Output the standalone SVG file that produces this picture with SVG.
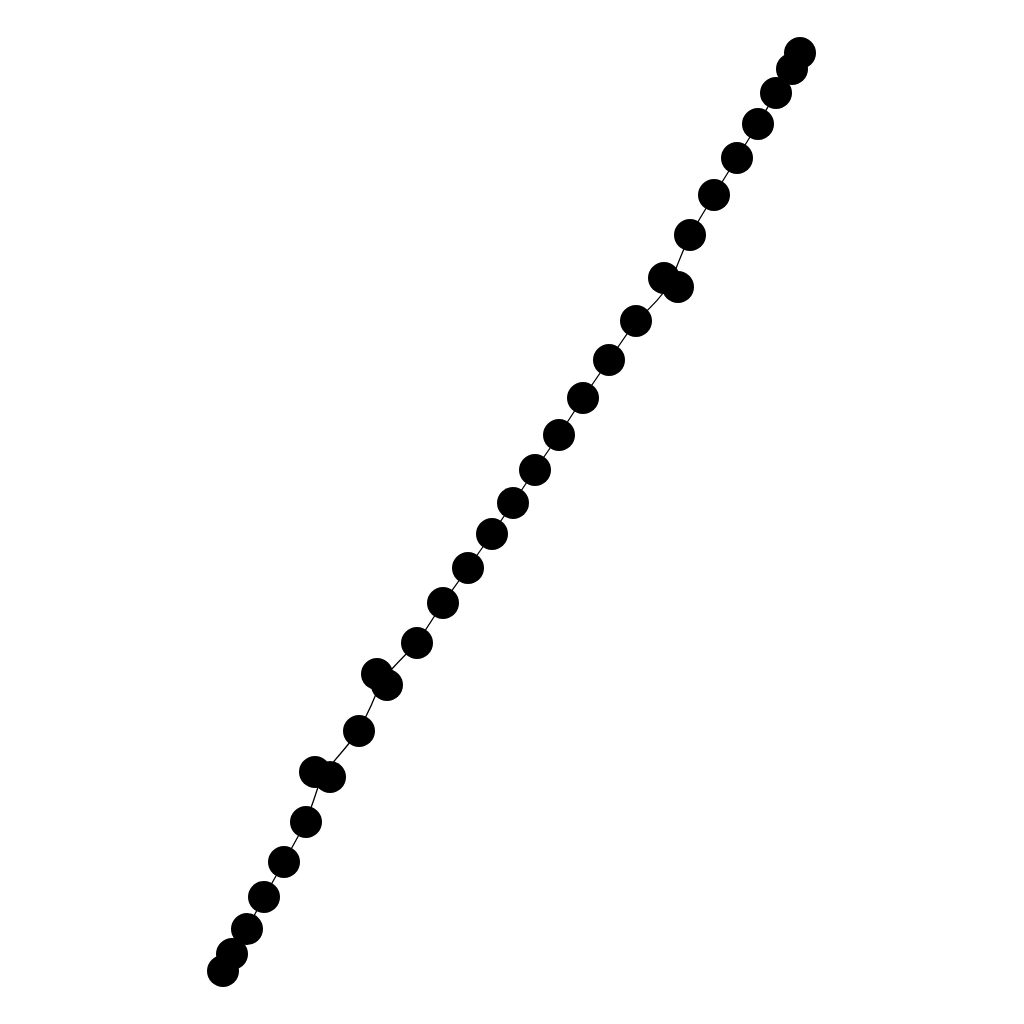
<svg xmlns="http://www.w3.org/2000/svg" width="1024" height="1024" viewBox="0 0 1024 1024">
<style>
.e{fill:none;stroke:#000;stroke-width:1.3}
.n{fill:#000}
</style>
<rect width="1024" height="1024" fill="#fff"/>
<g id="edges">
<path class="e" d="M800,53 L792,69 L776,93 L758,124 L737,158 L714,195 L690,235 Q678,262 671,282 Q660,300 636,321 L609,360 L583,398 L559,435 L535,470 L513,503 L492,534 L468,568 L443,603 L417,643 Q395,665 382,680 Q372,705 359,731 Q340,755 322,775 Q314,800 306,822 L284,862 L264,897 L247,929 L232,954 L223,971"/>
</g>
<g id="n1"><circle class="n" cx="800" cy="53" r="16"/></g>
<g id="n2"><circle class="n" cx="792" cy="69" r="16"/></g>
<g id="n3"><circle class="n" cx="776" cy="93" r="16"/></g>
<g id="n4"><circle class="n" cx="758" cy="124" r="16"/></g>
<g id="n5"><circle class="n" cx="737" cy="158" r="16"/></g>
<g id="n6"><circle class="n" cx="714" cy="195" r="16"/></g>
<g id="n7"><circle class="n" cx="690" cy="235" r="16"/></g>
<g id="n8"><circle class="n" cx="664" cy="278" r="16"/></g>
<g id="n9"><circle class="n" cx="678" cy="287" r="16"/></g>
<g id="n10"><circle class="n" cx="636" cy="321" r="16"/></g>
<g id="n11"><circle class="n" cx="609" cy="360" r="16"/></g>
<g id="n12"><circle class="n" cx="583" cy="398" r="16"/></g>
<g id="n13"><circle class="n" cx="559" cy="435" r="16"/></g>
<g id="n14"><circle class="n" cx="535" cy="470" r="16"/></g>
<g id="n15"><circle class="n" cx="513" cy="503" r="16"/></g>
<g id="n16"><circle class="n" cx="492" cy="534" r="16"/></g>
<g id="n17"><circle class="n" cx="468" cy="568" r="16"/></g>
<g id="n18"><circle class="n" cx="443" cy="603" r="16"/></g>
<g id="n19"><circle class="n" cx="417" cy="643" r="16"/></g>
<g id="n20"><circle class="n" cx="377" cy="674" r="16"/></g>
<g id="n21"><circle class="n" cx="387" cy="685" r="16"/></g>
<g id="n22"><circle class="n" cx="359" cy="731" r="16"/></g>
<g id="n23"><circle class="n" cx="315" cy="772" r="16"/></g>
<g id="n24"><circle class="n" cx="330" cy="777" r="16"/></g>
<g id="n25"><circle class="n" cx="306" cy="822" r="16"/></g>
<g id="n26"><circle class="n" cx="284" cy="862" r="16"/></g>
<g id="n27"><circle class="n" cx="264" cy="897" r="16"/></g>
<g id="n28"><circle class="n" cx="247" cy="929" r="16"/></g>
<g id="n29"><circle class="n" cx="232" cy="954" r="16"/></g>
<g id="n30"><circle class="n" cx="223" cy="971" r="16"/></g>
</svg>
